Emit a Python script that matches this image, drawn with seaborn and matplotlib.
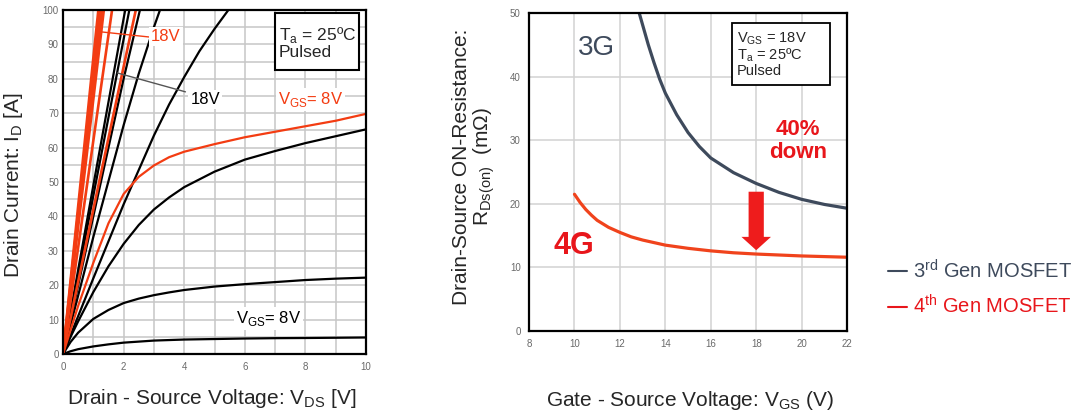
import numpy as np
import pandas as pd
import seaborn as sns
import matplotlib.pyplot as plt
from matplotlib.lines import Line2D
from matplotlib.patches import Rectangle

# ---- left chart: drain current vs drain-source voltage
VDS_SAT = [0, 0.25, 0.5, 1, 1.5, 2, 2.5, 3, 3.5, 4, 5, 6, 7, 8, 9, 10]
ID_3G_8V = [0, 0.8, 1.4, 2.2, 2.8, 3.3, 3.6, 3.9, 4.05, 4.2, 4.35, 4.5, 4.6, 4.65, 4.72, 4.8]
ID_3G_10V = [0, 3.5, 6.2, 10.2, 12.8, 14.8, 16.1, 17.1, 17.9, 18.6, 19.6, 20.3, 20.9, 21.5, 21.9, 22.2]
ID_3G_12V = [0, 5, 9.5, 18, 25.5, 32, 37.5, 42, 45.5, 48.5, 53, 56.5, 59, 61.3, 63.3, 65.3]
ID_4G_8V = [0, 7, 14, 26.5, 38, 46.5, 51.5, 54.8, 57.2, 58.8, 61, 63, 64.6, 66.2, 67.8, 69.8]

# steep curves (linear region), each with its own x points
VDS_3G_14V = [0, 1, 2, 3, 3.5, 4, 4.5, 5, 5.5]
ID_3G_14V = [0, 22, 43.5, 63.5, 72.5, 80.5, 88, 94.5, 100.5]
VDS_3G_16V = [0, 1, 2, 2.5, 3, 3.4]
ID_3G_16V = [0, 34, 66.5, 81.5, 95, 105]
VDS_3G_18V = [0, 1, 2, 2.7]
ID_3G_18V = [0, 40, 80, 106]
VDS_3G_20V = [0, 1, 2, 2.3]
ID_3G_20V = [0, 46, 91.5, 105]
VDS_3G_22V = [0, 1, 2, 2.2]
ID_3G_22V = [0, 49, 97.5, 107]

VDS_4G_10V = [0, 1, 2, 2.5]
ID_4G_10V = [0, 42, 83.5, 104]
VDS_4G_12V = [0, 1, 1.7]
ID_4G_12V = [0, 62, 105]
VDS_4G_14V = [0, 1, 1.4]
ID_4G_14V = [0, 74, 104]
VDS_4G_16V = [0, 1, 1.35]
ID_4G_16V = [0, 78, 105]
VDS_4G_18V = [0, 1, 1.3]
ID_4G_18V = [0, 82, 106]
VDS_4G_20V = [0, 1, 1.25]
ID_4G_20V = [0, 86, 107]

# ---- right chart: on-resistance vs gate-source voltage
VGS_3G = [12.85, 13.25, 13.5, 13.75, 14, 14.5, 15, 15.5, 16, 17, 18, 19, 20, 21, 22]
RDS_3G = [50, 45, 42.2, 39.6, 37.4, 34, 31.2, 29, 27.2, 24.9, 23.2, 21.8, 20.7, 19.9, 19.3]
VGS_4G = [10, 10.25, 10.5, 10.75, 11, 11.5, 12, 12.5, 13, 14, 15, 16, 17, 18, 19, 20, 21, 22]
RDS_4G = [21.5, 20.2, 19.1, 18.2, 17.4, 16.3, 15.5, 14.8, 14.3, 13.5, 13.0, 12.6, 12.3, 12.1,
          11.95, 11.8, 11.7, 11.6]

BLACK = "#000000"
ORANGE = "#f33c12"
SLATE = "#3e4a5c"
RED = "#e8161b"
TICK_GREY = "#6a6a6a"


def draw(ax, x, y, color, lw):
    sns.lineplot(x=x, y=y, color=color, lw=lw, ax=ax, estimator=None, sort=False)


def style_axes(ax, grid_color):
    ax.set_axisbelow(True)
    ax.grid(which="both", color=grid_color, lw=1.1)
    ax.tick_params(which="both", length=0, labelsize=7, labelcolor=TICK_GREY)
    for s in ax.spines.values():
        s.set_color("black")
        s.set_linewidth(1.6)


def main():
    sns.set_style("white")
    plt.rcParams["font.family"] = ["Liberation Sans", "DejaVu Sans"]

    fig = plt.figure(figsize=(10.81, 4.15), dpi=100)

    # left
    ax1 = fig.add_axes([0.0583, 0.147, 0.2803, 0.829])
    for y in [ID_3G_8V, ID_3G_10V, ID_3G_12V]:
        draw(ax1, VDS_SAT, y, BLACK, 1.6)
    for x, y in [(VDS_3G_14V, ID_3G_14V), (VDS_3G_16V, ID_3G_16V), (VDS_3G_18V, ID_3G_18V),
                 (VDS_3G_20V, ID_3G_20V), (VDS_3G_22V, ID_3G_22V)]:
        draw(ax1, x, y, BLACK, 1.6)
    draw(ax1, VDS_SAT, ID_4G_8V, ORANGE, 1.6)
    for x, y in [(VDS_4G_10V, ID_4G_10V), (VDS_4G_12V, ID_4G_12V), (VDS_4G_14V, ID_4G_14V),
                 (VDS_4G_16V, ID_4G_16V), (VDS_4G_18V, ID_4G_18V), (VDS_4G_20V, ID_4G_20V)]:
        draw(ax1, x, y, ORANGE, 1.9)

    ax1.set_xlim(0, 10)
    ax1.set_ylim(0, 100)
    ax1.set_xticks(range(0, 11, 2))
    ax1.set_xticks(range(0, 11), minor=True)
    ax1.set_yticks(range(0, 101, 10))
    ax1.set_yticks(range(0, 101, 5), minor=True)
    style_axes(ax1, "#c6c6c6")
    ax1.tick_params(axis="x", pad=6)
    ax1.tick_params(axis="y", pad=3)

    ax1.set_xlabel(r"Drain - Source Voltage: V$_\mathregular{DS}$ [V]", fontsize=15, va="center")
    ax1.xaxis.set_label_coords(0.492, -0.128)
    ax1.set_ylabel(r"Drain Current: I$_\mathregular{D}$ [A]", fontsize=15, va="center")
    ax1.yaxis.set_label_coords(-0.162, 0.491)

    ax1.add_patch(Rectangle((0.6997, 0.8256), 0.2773, 0.1654, transform=ax1.transAxes,
                            fc="white", ec="black", lw=1.5, zorder=5))
    ax1.text(0.713, 0.9055, "T$_\\mathregular{a}$ = 25ºC\nPulsed", transform=ax1.transAxes,
             fontsize=12.5, ha="left", va="center", linespacing=1.0, zorder=6)

    wbg = dict(fc="white", ec="none", pad=1.5)
    ax1.plot([3.1, 1.29], [91.9, 93.6], color=ORANGE, lw=1.0)
    ax1.text(2.9, 92.2, "18V", color=ORANGE, fontsize=12, ha="left", va="center", bbox=wbg)
    ax1.plot([4.04, 1.79], [76.2, 81.7], color="#555555", lw=1.0)
    ax1.text(4.2, 74.1, "18V", color=BLACK, fontsize=12, ha="left", va="center", bbox=wbg)
    ax1.text(7.1, 74.1, r"V$_\mathregular{GS}$= 8V", color=ORANGE, fontsize=12,
             ha="left", va="center", bbox=wbg)
    ax1.text(5.7, 10.2, r"V$_\mathregular{GS}$= 8V", color=BLACK, fontsize=12,
             ha="left", va="center", bbox=wbg)

    # right
    ax2 = fig.add_axes([0.4894, 0.2024, 0.2942, 0.7663])
    draw(ax2, VGS_3G, RDS_3G, SLATE, 2.3)
    draw(ax2, VGS_4G, RDS_4G, "#f0431c", 2.3)
    ax2.set_xlim(8, 22)
    ax2.set_ylim(0, 50)
    ax2.set_xticks(range(8, 23, 2))
    ax2.set_yticks(range(0, 51, 10))
    style_axes(ax2, "#d2d2d2")
    ax2.tick_params(axis="x", pad=6)
    ax2.tick_params(axis="y", pad=6)

    ax2.set_xlabel(r"Gate - Source Voltage: V$_\mathregular{GS}$ (V)", fontsize=15, va="center")
    ax2.xaxis.set_label_coords(0.506, -0.217)
    ax2.set_ylabel("Drain-Source ON-Resistance:\n" + r"R$_\mathregular{Ds(on)}$  (mΩ)",
                   fontsize=15, va="center", linespacing=1.0)
    ax2.yaxis.set_label_coords(-0.172, 0.516)

    ax2.add_patch(Rectangle((0.637, 0.774), 0.31, 0.195, transform=ax2.transAxes,
                            fc="white", ec="black", lw=1.3, zorder=5))
    ax2.text(0.654, 0.871, "V$_\\mathregular{GS}$ = 18V\nT$_\\mathregular{a}$ = 25ºC\nPulsed",
             transform=ax2.transAxes, fontsize=10.5, ha="left", va="center",
             linespacing=1.0, zorder=6)

    ax2.text(10.97, 44.5, "3G", color=SLATE, fontsize=20, ha="center", va="center")
    ax2.text(9.98, 13.4, "4G", color=RED, fontsize=22, fontweight="bold", ha="center", va="center")
    ax2.text(19.85, 29.9, "40%\ndown", color=RED, fontsize=16, fontweight="bold",
             ha="center", va="center", linespacing=1.1)
    ax2.arrow(18, 21.9, 0, -9.2, width=0.67, head_width=1.3, head_length=2.1,
              length_includes_head=True, color="#ee1c1c", lw=0, zorder=4)

    handles = [Line2D([], [], color=SLATE, lw=1.5), Line2D([], [], color=RED, lw=1.5)]
    fig.legend(handles, [r"3$^\mathregular{rd}$ Gen MOSFET", r"4$^\mathregular{th}$ Gen MOSFET"],
               loc="upper left", bbox_to_anchor=(888 / 1081, 1 - 259 / 415), frameon=False,
               fontsize=14.5, handlelength=0.95, handletextpad=0.3, labelspacing=0.62,
               borderpad=0, borderaxespad=0, labelcolor=[SLATE, RED])

    fig.savefig("out.png", dpi=100)


if __name__ == "__main__":
    main()
